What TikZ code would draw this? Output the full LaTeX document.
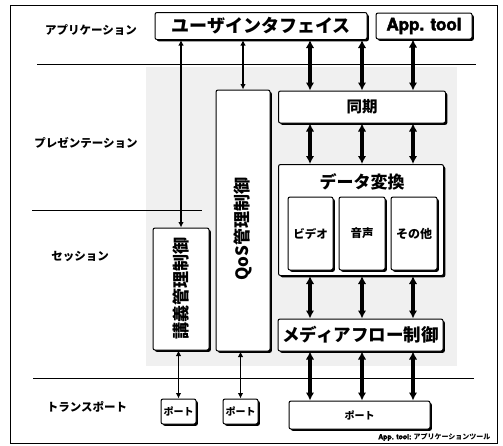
\documentclass[tikz,border=0pt]{standalone}
\usepackage{fontspec}
\setmainfont{Noto Sans CJK JP}
\newfontfamily\latinbold{texgyreheros-bold.otf}[FakeBold=2.5]
\usetikzlibrary{arrows.meta,shadows}

\newcommand{\fsz}[1]{\bfseries\fontsize{#1}{#1}\selectfont}

\begin{document}
\begin{tikzpicture}[x=1pt,y=-1pt,
		box/.style = {draw,line width=1pt,fill=white,rounded corners=2pt,inner sep=0pt,
			drop shadow={shadow xshift=1.8pt,shadow yshift=-1.8pt,fill=black,opacity=1}},
		layer/.style = {font=\fsz{11.5}},
		bigarrow/.style = {line width=3.2pt,{Latex[length=8pt,width=8.5pt]}-{Latex[length=8pt,width=8.5pt]}},
		thinarrow/.style = {line width=1.8pt,{Latex[length=5.5pt,width=5.5pt]}-{Latex[length=5.5pt,width=5.5pt]}},
		sep/.style = {line width=0.9pt}]
		\useasboundingbox (0,0) rectangle (503,445);
		% frame and shaded area
		\draw[line width=1pt] (10,5) rectangle (497,443);
		\fill[black!6] (146,67) rectangle (457,366);
		% layers
		\draw[sep] (37,64) -- (476,64);
		\draw[sep] (32,210) -- (202,210);
		\draw[sep] (33,378) -- (474,378);
		\node[layer] (app) at (91,30) {アプリケーション};
		\node[layer] (pres) at (86,143) {プレゼンテーション};
		\node[layer] (sesslayer) at (80,256) {セッション};
		\node[layer] (trans) at (87,407) {トランスポート};
		% boxes
		\node[box,minimum width=212pt,minimum height=27pt,font=\fsz{18}] (ui) at (261,26) {ユーザインタフェイス};
		\node[box,minimum width=96pt,minimum height=26pt,font=\latinbold\fontsize{17}{17}\selectfont] (tool) at (424,26) {App. tool};
		\node[box,minimum width=167pt,minimum height=32pt,font=\fsz{15.5}] (sync) at (362,107) {同期};
		\node[box,minimum width=165pt,minimum height=111pt] (conv) at (361,220) {};
		\node[font=\fsz{17}] (convlabel) at (362,182) {データ変換};
		\node[box,minimum width=45pt,minimum height=73pt,font=\fsz{11.5}] (video) at (310.5,233.5) {ビデオ};
		\node[box,minimum width=46pt,minimum height=73pt,font=\fsz{11.5}] (audio) at (362,233.5) {音声};
		\node[box,minimum width=46pt,minimum height=73pt,font=\fsz{12}] (other) at (414,233.5) {その他};
		\node[box,minimum width=165pt,minimum height=32pt,font=\fsz{17.5}] (flow) at (360.5,335) {メディアフロー制御};
		\node[box,minimum width=141pt,minimum height=28pt,font=\fsz{10}] (port3) at (359.5,415) {ポート};
		\node[box,minimum width=54pt,minimum height=261pt] (qos) at (243,220.5) {};
		\node[rotate=90,font=\fsz{17}] (qoslabel) at (243,229) {QoS管理制御};
		\node[box,minimum width=56pt,minimum height=122pt] (sess) at (181,289) {};
		\node[rotate=90,font=\fsz{17}] (sesslabel) at (181,288) {講義管理制御};
		\node[box,minimum width=35pt,minimum height=25pt,font=\fsz{10}] (port1) at (178.5,411.5) {ポート};
		\node[box,minimum width=35pt,minimum height=25pt,font=\fsz{10}] (port2) at (240.5,411.5) {ポート};
		% arrows
		\coordinate (c1) at (310,0);
		\coordinate (c2) at (362,0);
		\coordinate (c3) at (413,0);
		\foreach \c in {c1,c2}
			\draw[bigarrow] (ui.south -| \c) -- (sync.north -| \c);
		\draw[bigarrow] (tool.south -| c3) -- (sync.north -| c3);
		\foreach \c in {c1,c2,c3} {
			\draw[bigarrow] (sync.south -| \c) -- (conv.north -| \c);
			\draw[bigarrow] (conv.south -| \c) -- (flow.north -| \c);
			\draw[bigarrow] (flow.south -| \c) -- (port3.north -| \c);
		}
		\draw[thinarrow] (ui.south -| sess) -- (sess.north);
		\draw[thinarrow] (ui.south -| qos) -- (qos.north);
		\draw[thinarrow] (sess.south -| port1) -- (port1.north);
		\draw[thinarrow] (qos.south -| port2) -- (port2.north);
		% note
		\node[anchor=east,font=\fsz{7}] (note) at (494,437) {{\latinbold\fontsize{7}{7}\selectfont App. tool:} アプリケーションツール};
\end{tikzpicture}
\end{document}
